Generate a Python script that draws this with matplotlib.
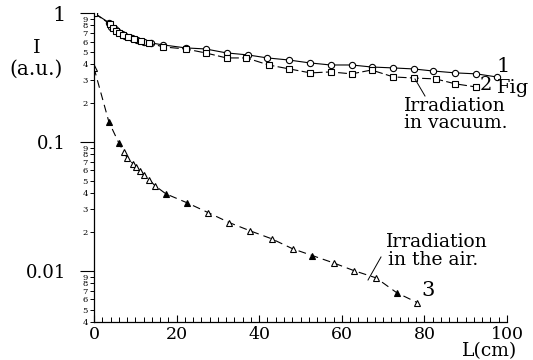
import matplotlib
matplotlib.use('Agg')
import matplotlib.pyplot as plt
from matplotlib.lines import Line2D
from matplotlib.ticker import FixedLocator, FuncFormatter, MultipleLocator
import numpy as np

plt.rcParams['font.family'] = 'DejaVu Serif'

# curve 1 - irradiation in vacuum (open circles)
L1 = [0, 3.75, 4.2, 5.0, 5.7, 6.7, 7.6, 9.1, 10.5, 12.0, 13.9, 16.8, 22.2, 27.0,
      32.1, 37.2, 42.0, 47.1, 52.2, 57.3, 62.4, 67.2, 72.3, 77.4, 82.0, 87.5, 92.6, 97.5]
I1 = [1.0, 0.837, 0.779, 0.751, 0.712, 0.688, 0.663, 0.64, 0.618, 0.596, 0.585, 0.565, 0.536, 0.526,
      0.49, 0.473, 0.448, 0.432, 0.41, 0.395, 0.395, 0.381, 0.375, 0.368, 0.355, 0.343, 0.337, 0.319]

# curve 2 - irradiation in vacuum (open squares)
L2 = [0, 3.9, 4.5, 5.3, 6.1, 7.1, 8.3, 9.8, 11.3, 13.3, 16.8, 22.2, 27.0, 32.1,
      36.9, 42.3, 47.3, 52.4, 57.3, 62.4, 67.2, 72.5, 77.4, 82.7, 87.5, 92.4]
I2 = [1.0, 0.82, 0.76, 0.73, 0.70, 0.675, 0.65, 0.627, 0.605, 0.585, 0.545, 0.526, 0.49, 0.448,
      0.448, 0.395, 0.368, 0.343, 0.349, 0.337, 0.361, 0.319, 0.313, 0.308, 0.282, 0.267]

# curve 3 - irradiation in the air (triangles, some filled)
L3 = [0, 3.6, 6.0, 7.2, 8.0, 9.5, 10.2, 11.2, 12.2, 13.4, 14.8, 17.4, 22.5, 27.7,
      32.8, 37.8, 43.0, 48.1, 52.9, 58.0, 63.0, 68.3, 73.3, 78.3]
I3 = [0.375, 0.143, 0.0982, 0.0837, 0.0752, 0.0675, 0.064, 0.0596, 0.0555, 0.0507, 0.0456, 0.0395, 0.0337, 0.0282,
      0.0236, 0.0204, 0.0177, 0.0148, 0.0131, 0.0115, 0.0100, 0.0088, 0.00675, 0.00565]
filled3 = [0, 1, 1, 0, 0, 0, 0, 0, 0, 0, 0, 1, 1, 0, 0, 0, 0, 0, 1, 0, 0, 0, 1, 0]

xticks = [0, 20, 40, 60, 80, 100]
yticks = [0.01, 0.1, 1]
ylabels = ['0.01', '0.1', '1']

W, H = 533, 360
fig = plt.figure(figsize=(W / 100, H / 100), dpi=100)
ax = fig.add_axes([94 / W, 1 - 322 / H, 413 / W, 309 / H])

ax.plot(L1, I1, '-', color='k', lw=0.8, marker='o', ms=4.5, mfc='white', mec='k', mew=0.8)
ax.plot(L2, I2, color='k', lw=0.8, ls=(0, (8, 3)), marker='s', ms=3.8, mfc='white', mec='k', mew=0.8)
ax.plot(L3, I3, color='k', lw=0.8, ls=(0, (7, 4.5)))
L3 = np.array(L3); I3 = np.array(I3); f = np.array(filled3, dtype=bool)
ax.plot(L3[~f], I3[~f], ls='none', marker='^', ms=3.8, mfc='white', mec='k', mew=0.8)
ax.plot(L3[f], I3[f], ls='none', marker='^', ms=3.8, mfc='k', mec='k', mew=0.8)

ax.set_yscale('log')
ax.set_xlim(0, 100)
ax.set_ylim(0.004, 1.0)

ax.spines['top'].set_visible(False)
ax.spines['right'].set_visible(False)
for s in ['left', 'bottom']:
    ax.spines[s].set_linewidth(0.9)

ax.xaxis.set_major_locator(FixedLocator(xticks))
ax.xaxis.set_minor_locator(MultipleLocator(2))
ax.tick_params(axis='x', which='major', direction='in', length=5, width=0.8, pad=3, labelsize=12.5)
ax.tick_params(axis='x', which='minor', direction='in', length=3.5, width=0.7)

minor_y = [m * 10.0 ** e for e in (-3, -2, -1) for m in range(2, 10)]
minor_y = [v for v in minor_y if v >= 0.004]
ax.yaxis.set_major_locator(FixedLocator(yticks))
ax.set_yticklabels(ylabels)
ax.yaxis.set_minor_locator(FixedLocator(minor_y))
ax.yaxis.set_minor_formatter(FuncFormatter(lambda v, p: '%d' % round(v / 10 ** np.floor(np.log10(v) + 1e-9))))
ax.tick_params(axis='y', which='major', direction='out', length=10, width=0.8, pad=10, labelsize=13)
ax.tick_params(axis='y', which='minor', direction='out', length=3, width=0.7, pad=1.5, labelsize=6)
ax.get_yticklabels()[-1].set_fontsize(15)


def px(x, y):
    return x / W, 1 - y / H


# curve labels and notes (positions in picture pixels)
fig.text(*px(503, 66), '1', ha='center', va='center', fontsize=15)
fig.text(*px(486, 85), '2', ha='center', va='center', fontsize=14)
fig.text(*px(497, 88), 'Fig', ha='left', va='center', fontsize=14)
fig.text(*px(404, 106), 'Irradiation', ha='left', va='center', fontsize=13.5)
fig.text(*px(404, 123), 'in vacuum.', ha='left', va='center', fontsize=13.5)
fig.add_artist(Line2D([415 / W, 425 / W], [1 - 79 / H, 1 - 96 / H], color='k', lw=0.7))
fig.text(*px(386, 242), 'Irradiation', ha='left', va='center', fontsize=13.5)
fig.text(*px(388, 260), 'in the air.', ha='left', va='center', fontsize=13.5)
fig.add_artist(Line2D([368 / W, 381 / W], [1 - 280 / H, 1 - 257 / H], color='k', lw=0.7))
fig.text(*px(428, 291), '3', ha='center', va='center', fontsize=15)

fig.text(*px(37, 48), 'I', ha='center', va='center', fontsize=14)
fig.text(*px(36, 69), '(a.u.)', ha='center', va='center', fontsize=14.5)
fig.text(*px(490, 351), 'L(cm)', ha='center', va='center', fontsize=13.5)

fig.savefig('out.png', dpi=100)
